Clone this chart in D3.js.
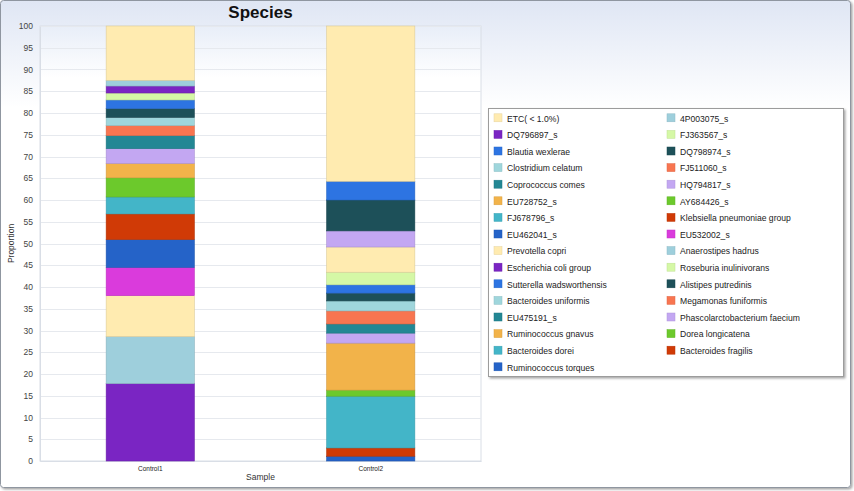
<!DOCTYPE html>
<html>
<head>
<meta charset="utf-8">
<script src="https://cdn.jsdelivr.net/npm/d3@7"></script>
<style>
  html, body { margin: 0; padding: 0; background: #ffffff; }
  svg { display: block; }
</style>
</head>
<body>
<svg id="chart" width="854" height="491"></svg>
<script>
// ---------------- data ----------------
const samples = ["Control1", "Control2"];
const species = [
  "ETC( < 1.0%)", "4P003075_s", "DQ796897_s", "FJ363567_s", "Blautia wexlerae", "DQ798974_s",
  "Clostridium celatum", "FJ511060_s", "Coprococcus comes", "HQ794817_s", "EU728752_s", "AY684426_s",
  "FJ678796_s", "Klebsiella pneumoniae group", "EU462041_s", "EU532002_s", "Prevotella copri",
  "Anaerostipes hadrus", "Escherichia coli group", "Roseburia inulinivorans", "Sutterella wadsworthensis",
  "Alistipes putredinis", "Bacteroides uniformis", "Megamonas funiformis", "EU475191_s",
  "Phascolarctobacterium faecium", "Ruminococcus gnavus", "Dorea longicatena", "Bacteroides dorei",
  "Bacteroides fragilis", "Ruminococcus torques"
];
// proportions (%) per species, same order as `species`
const control1 = [
  12.5, 1.3, 1.6, 1.6, 2.0, 2.0,
  1.9, 2.3, 3.0, 3.4, 3.3, 4.4,
  3.9, 5.9, 6.4, 6.5, 9.4,
  10.8, 17.8, 0, 0,
  0, 0, 0, 0,
  0, 0, 0, 0,
  0, 0
];
const control2 = [
  35.7, 0, 0, 0, 4.3, 7.1,
  0, 0, 0, 3.7, 0, 0,
  0, 0, 0, 0, 5.8,
  0, 0, 2.9, 1.9,
  1.8, 2.3, 3.0, 2.1,
  2.3, 10.8, 1.4, 11.9,
  1.9, 1.1
];
const yTicks = [0,5,10,15,20,25,30,35,40,45,50,55,60,65,70,75,80,85,90,95,100];
const palette = [
  "#ffebb0", "#9ecfdc", "#7a25c3", "#d5f8a6", "#2d74e2", "#1d5059",
  "#9fd6dc", "#f87550", "#238794", "#c3a7f2", "#f2b34a", "#6cc92c",
  "#43b5c8", "#d03a06", "#2563c8", "#da3bdc"
];

// ---------------- layout ----------------
const W = 854, H = 491;
const plot = { left: 40, right: 481, top: 26, bottom: 461 };
const svg = d3.select("#chart");
const defs = svg.append("defs");

const bgGrad = defs.append("linearGradient").attr("id", "bgGrad")
  .attr("x1", 0).attr("y1", 0).attr("x2", 0).attr("y2", 1);
bgGrad.append("stop").attr("offset", "0%").attr("stop-color", "#dfe6f4");
bgGrad.append("stop").attr("offset", "22%").attr("stop-color", "#ffffff");
bgGrad.append("stop").attr("offset", "100%").attr("stop-color", "#ffffff");

const shadow = defs.append("filter").attr("id", "shadow")
  .attr("x", "-5%").attr("y", "-5%").attr("width", "110%").attr("height", "110%");
shadow.append("feDropShadow").attr("dx", 1.5).attr("dy", 1.5).attr("stdDeviation", 1)
  .attr("flood-color", "#000").attr("flood-opacity", 0.35);

// outer frame
svg.append("rect").attr("x", 0.5).attr("y", 0.5).attr("width", W - 4).attr("height", H - 4)
  .attr("rx", 3).attr("fill", "url(#bgGrad)").attr("stroke", "#8f96a0").attr("stroke-width", 1)
  .attr("filter", "url(#shadow)");

// scales
const x = d3.scaleBand().domain(samples).range([plot.left, plot.right])
  .paddingInner(0.6).paddingOuter(0.3);
const y = d3.scaleLinear().domain([0, 100]).range([plot.bottom, plot.top]);
const color = d3.scaleOrdinal().domain(species).range(species.map((s, i) => palette[i % palette.length]));

// plot background
const plotGrad = defs.append("linearGradient").attr("id", "plotGrad")
  .attr("x1", 0).attr("y1", 0).attr("x2", 0).attr("y2", 1);
plotGrad.append("stop").attr("offset", "0%").attr("stop-color", "#e8eef8");
plotGrad.append("stop").attr("offset", "12%").attr("stop-color", "#ffffff");
plotGrad.append("stop").attr("offset", "100%").attr("stop-color", "#ffffff");
svg.append("rect").attr("x", plot.left).attr("y", plot.top)
  .attr("width", plot.right - plot.left).attr("height", plot.bottom - plot.top)
  .attr("fill", "url(#plotGrad)").attr("stroke", "#d9dee6");

// gridlines
svg.append("g").selectAll("line").data(yTicks.filter(t => t > 0)).join("line")
  .attr("x1", plot.left).attr("x2", plot.right)
  .attr("y1", d => Math.round(y(d)) + 0.5).attr("y2", d => Math.round(y(d)) + 0.5)
  .attr("stroke", "#e6e9ee");

// y axis
const yAxis = svg.append("g").attr("transform", `translate(${plot.left},0)`)
  .call(d3.axisLeft(y).tickValues(yTicks).tickSize(0).tickPadding(7));
yAxis.select(".domain").attr("stroke", "#d9dee6");
yAxis.selectAll("text").attr("font-family", "Liberation Sans, Arial, sans-serif")
  .attr("font-size", 8.5).attr("fill", "#444");

// x axis
const xAxis = svg.append("g").attr("transform", `translate(0,${plot.bottom})`)
  .call(d3.axisBottom(x).tickSize(0).tickPadding(5));
xAxis.select(".domain").attr("stroke", "#d9dee6");
xAxis.selectAll("text").attr("font-family", "Liberation Sans, Arial, sans-serif")
  .attr("font-size", 6.5).attr("fill", "#222");

// stacked data
const rows = samples.map((s, i) => {
  const vals = i === 0 ? control1 : control2;
  const r = { sample: s };
  species.forEach((sp, j) => r[sp] = vals[j]);
  return r;
});
// first species in legend is at top of stack -> stack in reverse order
const stack = d3.stack().keys(species.slice().reverse());
const series = stack(rows);

const barG = svg.append("g");
series.forEach(ser => {
  barG.append("g").attr("fill", color(ser.key))
    .attr("stroke", d3.color(color(ser.key)).darker(0.4))
    .attr("stroke-width", 0.6)
    .selectAll("rect").data(ser.filter(d => d[1] - d[0] > 0)).join("rect")
    .attr("x", d => x(d.data.sample))
    .attr("width", x.bandwidth())
    .attr("y", d => y(d[1]))
    .attr("height", d => y(d[0]) - y(d[1]));
});

// titles
svg.append("text").attr("x", (plot.left + plot.right) / 2).attr("y", 18)
  .attr("text-anchor", "middle").attr("font-family", "Liberation Sans, Arial, sans-serif")
  .attr("font-weight", "bold").attr("font-size", 17).attr("fill", "#111").text("Species");
svg.append("text").attr("transform", `translate(14,${(plot.top + plot.bottom) / 2}) rotate(-90)`)
  .attr("text-anchor", "middle").attr("font-family", "Liberation Sans, Arial, sans-serif")
  .attr("font-size", 8.5).attr("fill", "#333").text("Proportion");
svg.append("text").attr("x", (plot.left + plot.right) / 2).attr("y", 480)
  .attr("text-anchor", "middle").attr("font-family", "Liberation Sans, Arial, sans-serif")
  .attr("font-size", 8.5).attr("fill", "#333").text("Sample");

// legend
const legend = { x: 488, y: 108, w: 355, h: 268 };
svg.append("rect").attr("x", legend.x + 0.5).attr("y", legend.y + 0.5)
  .attr("width", legend.w).attr("height", legend.h)
  .attr("fill", "#fff").attr("stroke", "#9c9c9c").attr("filter", "url(#shadow)");
const rowH = 16.6, colW = 173;
const items = svg.append("g").selectAll("g").data(species).join("g")
  .attr("transform", (d, i) => `translate(${legend.x + 6 + (i % 2) * colW},${legend.y + 10.3 + Math.floor(i / 2) * rowH})`);
items.append("rect").attr("x", 0).attr("y", -4.5).attr("width", 8).attr("height", 8)
  .attr("fill", d => color(d)).attr("stroke", d => d3.color(color(d)).darker(0.3)).attr("stroke-width", 0.5);
items.append("text").attr("x", 13).attr("y", 3.2)
  .attr("font-family", "Liberation Sans, Arial, sans-serif").attr("font-size", 8.6)
  .attr("fill", "#222").text(d => d);
</script>
</body>
</html>
